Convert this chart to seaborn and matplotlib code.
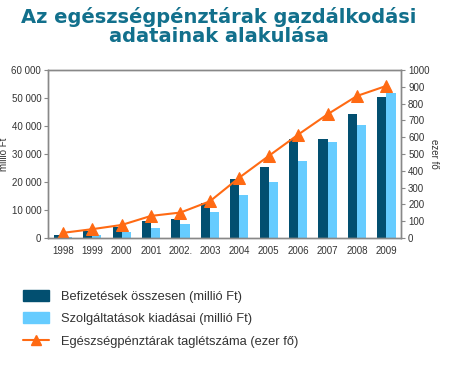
import pandas as pd
import numpy as np
import matplotlib.pyplot as plt
import seaborn as sns
from matplotlib.patches import Patch
from matplotlib.lines import Line2D

years = ['1998', '1999', '2000', '2001', '2002.', '2003', '2004', '2005', '2006', '2007', '2008', '2009']
befizetes = [1000, 2600, 4000, 6000, 6800, 12500, 21200, 25300, 35300, 35300, 44300, 50300]
szolgaltatas = [300, 1000, 2200, 3700, 4800, 9300, 15300, 20000, 27500, 34300, 40300, 51700]
taglet = [30, 52, 77, 131, 151, 218, 359, 488, 615, 736, 845, 905]

lbl_bef = 'Befizetések összesen (millió Ft)'
lbl_szo = 'Szolgáltatások kiadásai (millió Ft)'
lbl_tag = 'Egészségpénztárak taglétszáma (ezer fő)'

df = pd.DataFrame({'year': years * 2,
                   'value': befizetes + szolgaltatas,
                   'series': [lbl_bef] * 12 + [lbl_szo] * 12})

sns.set_style('white')
plt.rcParams['font.family'] = ['Liberation Sans', 'DejaVu Sans']

fig = plt.figure(figsize=(4.67, 3.66), dpi=100)
ax = fig.add_axes([0.103, 0.350, 0.756, 0.459])

sns.barplot(data=df, x='year', y='value', hue='series',
            palette=['#024f70', '#66ccff'], width=0.62, saturation=1,
            linewidth=0, gap=0, ax=ax, legend=False)

ax2 = ax.twinx()
sns.lineplot(x=np.arange(12), y=taglet, color='#ff6a13', marker='^',
             markersize=8, markeredgecolor='#ff6a13', linewidth=1.5, ax=ax2)

ax.set_xlim(-0.5, 11.5)
ax.set_ylim(0, 60000)
ax2.set_ylim(0, 1000)
ax.set_yticks(range(0, 60001, 10000))
ax.set_yticklabels([f'{v:,}'.replace(',', ' ') for v in range(0, 60001, 10000)])
ax2.set_yticks(range(0, 1001, 100))

ax.set_xticks(range(12))
ax.set_xticklabels(years)
ax.set_xticks(np.arange(-0.5, 12, 1), minor=True)
ax.tick_params(axis='x', which='major', length=0, labelsize=7, pad=6, colors='#333333')
ax.tick_params(axis='x', which='minor', length=5, direction='inout', color='#888888')
ax.tick_params(axis='y', length=3, labelsize=7, color='#888888', labelcolor='#333333', pad=2)
ax2.tick_params(axis='y', length=3, labelsize=7, color='#888888', labelcolor='#333333', pad=2)

ax.set_xlabel('')
ax.set_ylabel('millió Ft', fontsize=7, color='#333333', labelpad=2)
ax2.set_ylabel('ezer fő', fontsize=7, color='#333333', rotation=270, labelpad=7)

for a in (ax, ax2):
    for s in a.spines.values():
        s.set_color('#888888')
        s.set_linewidth(1)

fig.text(0.469, 0.953, 'Az egészségpénztárak gazdálkodási', ha='center', va='center',
         fontsize=14, fontweight='heavy', color='#12708c', family='DejaVu Sans')
fig.text(0.469, 0.899, 'adatainak alakulása', ha='center', va='center',
         fontsize=14, fontweight='heavy', color='#12708c', family='DejaVu Sans')

handles = [Patch(color='#024f70'), Patch(color='#66ccff'),
           Line2D([0], [0], color='#ff6a13', marker='^', markersize=7, linewidth=1.5)]
fig.legend(handles, [lbl_bef, lbl_szo, lbl_tag], loc='upper left',
           bbox_to_anchor=(0.025, 0.24), frameon=False, fontsize=9.3,
           handlelength=2.0, handleheight=0.9, labelspacing=0.75,
           handletextpad=0.9, labelcolor='#333333')

fig.savefig('out.png', dpi=100)
